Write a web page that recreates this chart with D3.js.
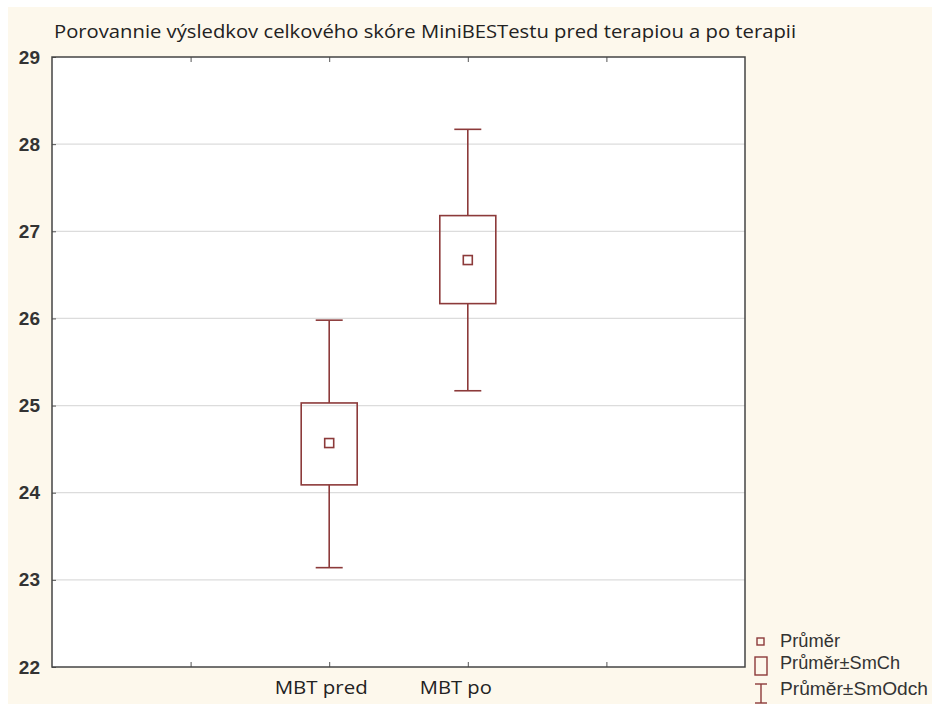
<!DOCTYPE html>
<html><head><meta charset="utf-8">
<script src="https://cdn.jsdelivr.net/npm/d3@7"></script>
<style>body{margin:0;background:#fff}svg{display:block}</style>
</head><body><svg id="c" width="932" height="704"></svg>
<script>
const title = "Porovannie výsledkov celkového skóre MiniBESTestu pred terapiou a po terapii";
const categories = ["MBT pred", "MBT po"];
const catPositions = [2, 3];
const means = [24.57, 26.67];
const seLow = [24.09, 26.17];
const seHigh = [25.03, 27.18];
const sdLow = [23.14, 25.17];
const sdHigh = [25.98, 28.17];
const yTicks = [22, 23, 24, 25, 26, 27, 28, 29];
const xTicks = [1, 2, 3, 4];
const legendLabels = ["Průměr", "Průměr±SmCh", "Průměr±SmOdch"];

const svg = d3.select("#c");
const red = "#8c3a3a";
svg.append("rect").attr("x", 8).attr("y", 7).attr("width", 924).attr("height", 697).attr("fill", "#fdf8ec");

const L = 52, R = 745, T = 57, B = 667;
const x = d3.scaleLinear().domain([0, 5]).range([L, R]);
const y = d3.scaleLinear().domain([22, 29]).range([B, T]);

svg.append("rect").attr("x", L).attr("y", T).attr("width", R - L).attr("height", B - T).attr("fill", "#fff");

// grid
svg.append("g").selectAll("line").data(yTicks.slice(1, -1)).join("line")
  .attr("x1", L).attr("x2", R).attr("y1", d => y(d)).attr("y2", d => y(d))
  .attr("stroke", "#dcdcdc").attr("stroke-width", 1.2);

// axes
const font = "'Liberation Sans', Arial, sans-serif";
const yAxis = svg.append("g").attr("transform", `translate(${L},0)`)
  .call(d3.axisRight(y).tickValues(yTicks).tickSize(4).tickFormat(d3.format("d")));
yAxis.select(".domain").remove();
yAxis.selectAll("line").attr("stroke", "#555");
yAxis.selectAll("text").attr("x", -12).attr("text-anchor", "end").attr("font-family", font)
  .attr("font-size", 19).attr("fill", "#333").attr("font-weight", "bold");

const xTop = svg.append("g").attr("transform", `translate(0,${T})`)
  .call(d3.axisBottom(x).tickValues(xTicks).tickSize(5).tickFormat(""));
xTop.select(".domain").remove();
xTop.selectAll("line").attr("stroke", "#555");
const xBot = svg.append("g").attr("transform", `translate(0,${B})`)
  .call(d3.axisTop(x).tickValues(xTicks).tickSize(5).tickFormat(""));
xBot.select(".domain").remove();
xBot.selectAll("line").attr("stroke", "#555");

svg.append("rect").attr("x", L).attr("y", T).attr("width", R - L).attr("height", B - T)
  .attr("fill", "none").attr("stroke", "#444").attr("stroke-width", 1.5);

const catW = [93, 72];
const catDx = [-8, -12];
svg.append("g").selectAll("text").data(categories).join("text")
  .attr("x", (d, i) => x(catPositions[i])).attr("dx", (d, i) => catDx[i]).attr("y", 694).attr("text-anchor", "middle")
  .attr("font-family", "'Open Sans', sans-serif").attr("font-size", 19).attr("fill", "#222")
  .attr("textLength", (d, i) => catW[i]).attr("lengthAdjust", "spacingAndGlyphs").text(d => d);

svg.append("text").attr("x", 54).attr("y", 38).attr("font-family", "'Open Sans', sans-serif")
  .attr("font-size", 18).attr("fill", "#222").attr("textLength", 742).attr("lengthAdjust", "spacingAndGlyphs").text(title);

// marks
const g = svg.append("g").attr("fill", "none").attr("stroke", red).attr("stroke-width", 1.6);
const bw = 56, cw = 27, mw = 9;
catPositions.forEach((p, i) => {
  const cx = x(p);
  g.append("line").attr("x1", cx).attr("x2", cx).attr("y1", y(sdHigh[i])).attr("y2", y(seHigh[i]));
  g.append("line").attr("x1", cx).attr("x2", cx).attr("y1", y(seLow[i])).attr("y2", y(sdLow[i]));
  g.append("line").attr("x1", cx - cw / 2).attr("x2", cx + cw / 2).attr("y1", y(sdHigh[i])).attr("y2", y(sdHigh[i]));
  g.append("line").attr("x1", cx - cw / 2).attr("x2", cx + cw / 2).attr("y1", y(sdLow[i])).attr("y2", y(sdLow[i]));
  g.append("rect").attr("x", cx - bw / 2).attr("y", y(seHigh[i])).attr("width", bw).attr("height", y(seLow[i]) - y(seHigh[i]));
  g.append("rect").attr("x", cx - mw / 2).attr("y", y(means[i]) - mw / 2).attr("width", mw).attr("height", mw);
});

// legend
const lg = svg.append("g");
lg.append("rect").attr("x", 757).attr("y", 638).attr("width", 7).attr("height", 7).attr("fill", "none").attr("stroke", red).attr("stroke-width", 1.4);
lg.append("rect").attr("x", 755).attr("y", 657).attr("width", 12).attr("height", 18).attr("fill", "none").attr("stroke", red).attr("stroke-width", 1.4);
lg.append("line").attr("x1", 761).attr("x2", 761).attr("y1", 684).attr("y2", 703).attr("stroke", red).attr("stroke-width", 1.4);
lg.append("line").attr("x1", 755).attr("x2", 767).attr("y1", 684).attr("y2", 684).attr("stroke", red).attr("stroke-width", 1.4);
lg.append("line").attr("x1", 755).attr("x2", 767).attr("y1", 703).attr("y2", 703).attr("stroke", red).attr("stroke-width", 1.4);
const ly = [647, 669, 695];
const lw = [60, 120, 148];
lg.selectAll("text").data(legendLabels).join("text").attr("x", 780).attr("y", (d, i) => ly[i])
  .attr("font-family", font).attr("font-size", 18).attr("fill", "#333")
  .attr("textLength", (d, i) => lw[i]).attr("lengthAdjust", "spacingAndGlyphs").text(d => d);
</script></body></html>
